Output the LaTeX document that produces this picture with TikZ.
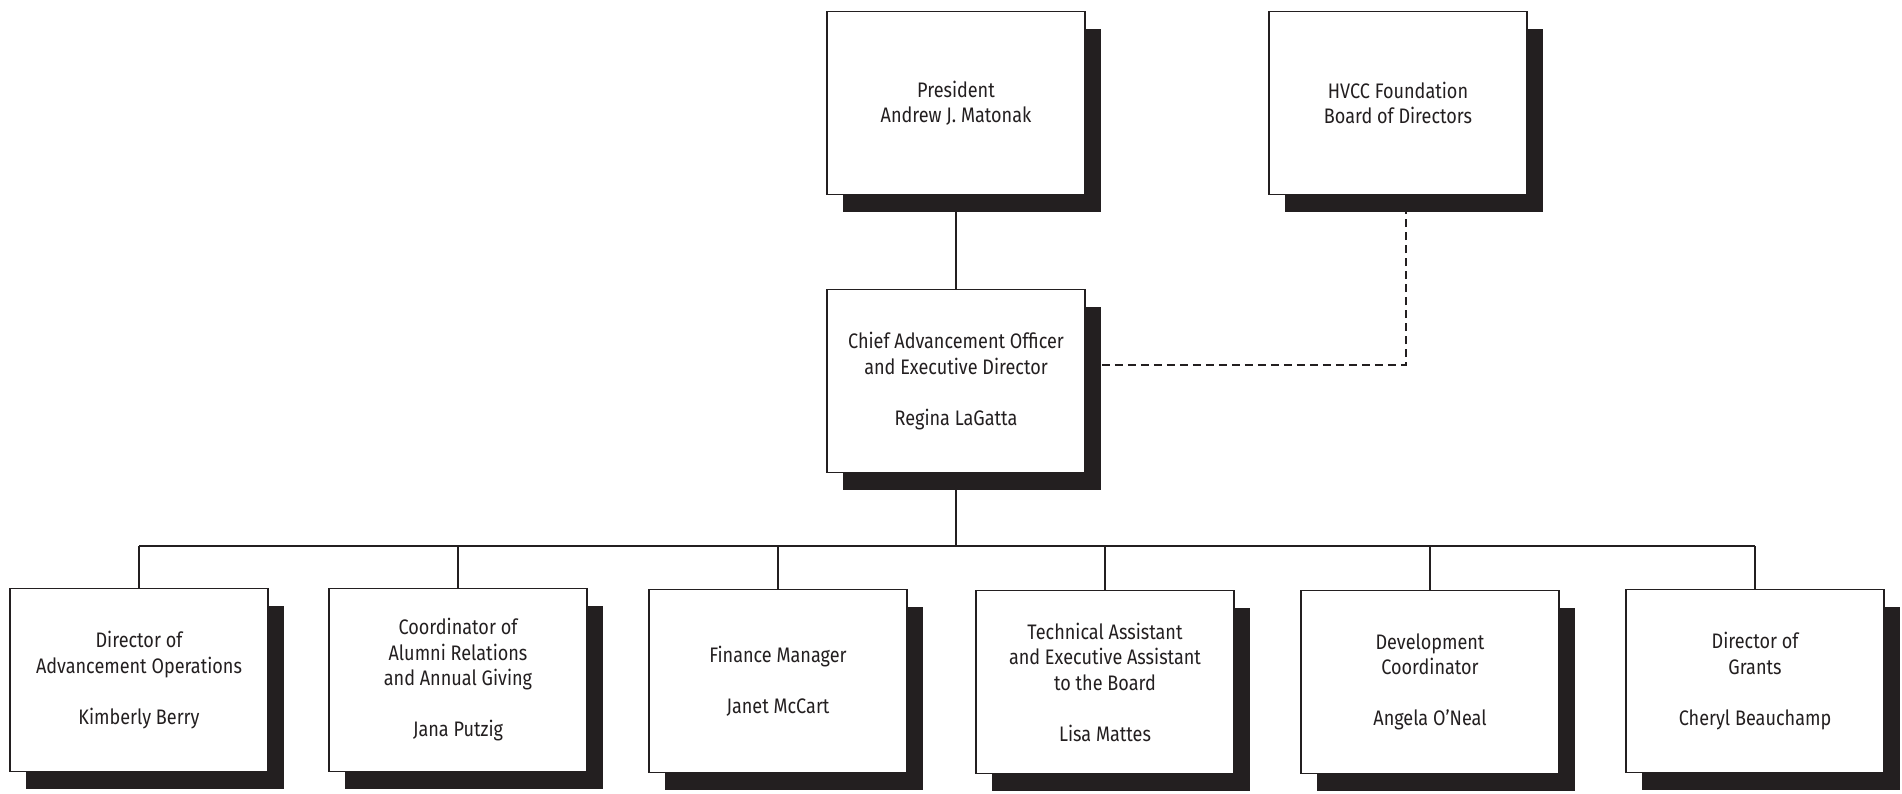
\documentclass[tikz,border=0pt]{standalone}
\usepackage{fontspec}
\setmainfont{Fira Sans}[FakeStretch=0.86]
\usetikzlibrary{shadows}
\definecolor{ink}{HTML}{231F20}
\begin{document}
\begin{tikzpicture}[x=1pt,y=-1pt,
  orgbox/.style={draw=ink, line width=1.7pt, fill=white, minimum width=258pt,
    minimum height=183pt, inner sep=0pt, align=center,
    font=\fontsize{21}{25.5}\selectfont, text=ink,
    drop shadow={shadow xshift=16pt, shadow yshift=-17pt, fill=ink, opacity=1}},
  conn/.style={draw=ink, line width=1.9pt},
  dashline/.style={conn, dash pattern=on 8pt off 5pt}]
\useasboundingbox (0,0) rectangle (1902,793);
\fill[white] (0,0) rectangle (1902,793);
\coordinate (bus) at (956,546);
\node[orgbox] (pres) at (956,103) {President\\Andrew J. Matonak};
\node[orgbox] (hvcc) at (1398,103) {HVCC Foundation\\Board of Directors};
\node[orgbox] (cao) at (956,381) {Chief Advancement Officer\\and Executive Director\\[25.5pt]Regina LaGatta};
\node[orgbox] (b1) at (139,680) {Director of\\Advancement Operations\\[25.5pt]Kimberly Berry};
\node[orgbox] (b2) at (458,680) {Coordinator of\\Alumni Relations\\and Annual Giving\\[25.5pt]Jana Putzig};
\node[orgbox] (b3) at (778,681) {Finance Manager\\[25.5pt]Janet McCart};
\node[orgbox] (b4) at (1105,682) {Technical Assistant\\and Executive Assistant\\to the Board\\[25.5pt]Lisa Mattes};
\node[orgbox] (b5) at (1430,682) {Development\\Coordinator\\[25.5pt]Angela O’Neal};
\node[orgbox] (b6) at (1755,681) {Director of\\Grants\\[25.5pt]Cheryl Beauchamp};
\draw[conn] (pres.south) -- (cao.north);
\draw[conn] (cao.south) -- (bus);
\draw[conn] (b1.north |- bus) -- (b6.north |- bus);
\foreach \b in {b1,b2,b3,b4,b5,b6} {\draw[conn] (\b.north |- bus) -- (\b.north);}
\draw[dashline] ([xshift=16pt,yshift=16pt]cao.east) -| ([xshift=8pt,yshift=-17pt]hvcc.south);
\end{tikzpicture}
\end{document}
